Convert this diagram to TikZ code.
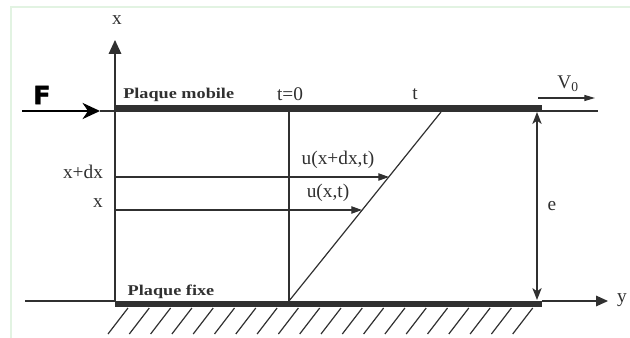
\documentclass[tikz,border=0pt]{standalone}
\usepackage{fontspec}
\setmainfont{Liberation Serif}
\newfontfamily\plqfont[FakeStretch=1.22]{Liberation Serif}
\newfontfamily\forcefont[FakeBold=1.5]{DejaVu Sans Bold}
\usetikzlibrary{arrows.meta}
\definecolor{ink}{HTML}{303030}
\definecolor{frame}{HTML}{E2F3E2}
\begin{document}
\begin{tikzpicture}[x=0.75pt,y=-0.75pt,
  thinl/.style={draw=ink,line width=0.9pt},
  plate/.style={fill=ink,draw=none},
  lbl/.style={font=\fontsize{14.5}{16}\selectfont,text=ink,inner sep=0pt},
  plq/.style={font=\plqfont\bfseries\fontsize{11.2}{13}\selectfont,text=ink,inner sep=0pt},
  axx/.style={thinl,-{Triangle[length=10.5pt,width=9.5pt]}},
  axy/.style={thinl,-{Triangle[length=9pt,width=8pt]}},
  uarr/.style={thinl,-{Triangle[length=8pt,width=5.5pt]}},
  earr/.style={thinl,{Stealth[length=9pt,width=7pt,inset=2.5pt]}-{Stealth[length=9pt,width=7pt,inset=2.5pt]}},
  farr/.style={draw=black,line width=2.2pt,-{Stealth[length=13pt,width=12pt,inset=4pt]}},
  varr/.style={thinl,-{Triangle[length=8pt,width=4.5pt]}}
]
\useasboundingbox (0,0) rectangle (630,338);
% frame
\draw[frame,line width=1.5pt] (11,338) -- (11,7) -- (630,7);
% coordinates
\coordinate (O) at (115,301);
\coordinate (Xtip) at (115,40);
\coordinate (Ftail) at (22,111);
\coordinate (Ftip) at (100,111);
\coordinate (TL) at (115,111);
\coordinate (TR) at (542,111);
\coordinate (Tend) at (598,111);
\coordinate (BL) at (25,301);
\coordinate (BR) at (542,301);
\coordinate (Ytip) at (608,301);
\coordinate (Vs) at (538,98);
\coordinate (Ve) at (595,98);
\coordinate (Et) at (537,112);
\coordinate (Eb) at (537,300);
\coordinate (T0t) at (289,112);
\coordinate (T0b) at (289,301);
\coordinate (Dt) at (441,112);
\coordinate (A1s) at (115,177);
\coordinate (A1e) at (389,177);
\coordinate (A2s) at (115,210);
\coordinate (A2e) at (362,210);
% plates
\fill[plate] (115,105) rectangle (542,112);
\fill[plate] (115,301) rectangle (542,307);
% lines
\draw[axx] (O) -- (Xtip);
\draw[farr] (Ftail) -- (Ftip);
\draw[thinl] (Ftip) -- (TL);
\draw[thinl] (TR) -- (Tend);
\draw[thinl] (BL) -- (O);
\draw[axy] (BR) -- (Ytip);
\draw[varr] (Vs) -- (Ve);
\draw[earr] (Et) -- (Eb);
\draw[thinl] (T0t) -- (T0b);
\draw[thinl] (T0b) -- (Dt);
\draw[uarr] (A1s) -- (A1e);
\draw[uarr] (A2s) -- (A2e);
% hatches
\foreach \i in {0,...,19} \draw[thinl] ({128+21.3*\i},308) -- ++(-20,26);
% labels
\node[lbl] (lx) at (117,20) {x};
\node[lbl] (ly) at (622,300) {y};
\node[font=\forcefont\fontsize{19}{21}\selectfont,inner sep=0pt] (lF) at (42,95) {F};
\node[plq,anchor=west] (lpm) at (123,95) {Plaque mobile};
\node[plq] (lpf) at (171,292) {Plaque fixe};
\node[lbl] (lt0) at (290,94) {t=0};
\node[lbl] (lt) at (415,94) {t};
\node[lbl] (lv) at (568,84) {V\textsubscript{0}};
\node[lbl] (le) at (552,206) {e};
\node[lbl] (lxdx) at (83,172) {x+dx};
\node[lbl] (lxx) at (98,203) {x};
\node[lbl] (lu1) at (338,160) {u(x+dx,t)};
\node[lbl] (lu2) at (328,193) {u(x,t)};
\end{tikzpicture}
\end{document}
